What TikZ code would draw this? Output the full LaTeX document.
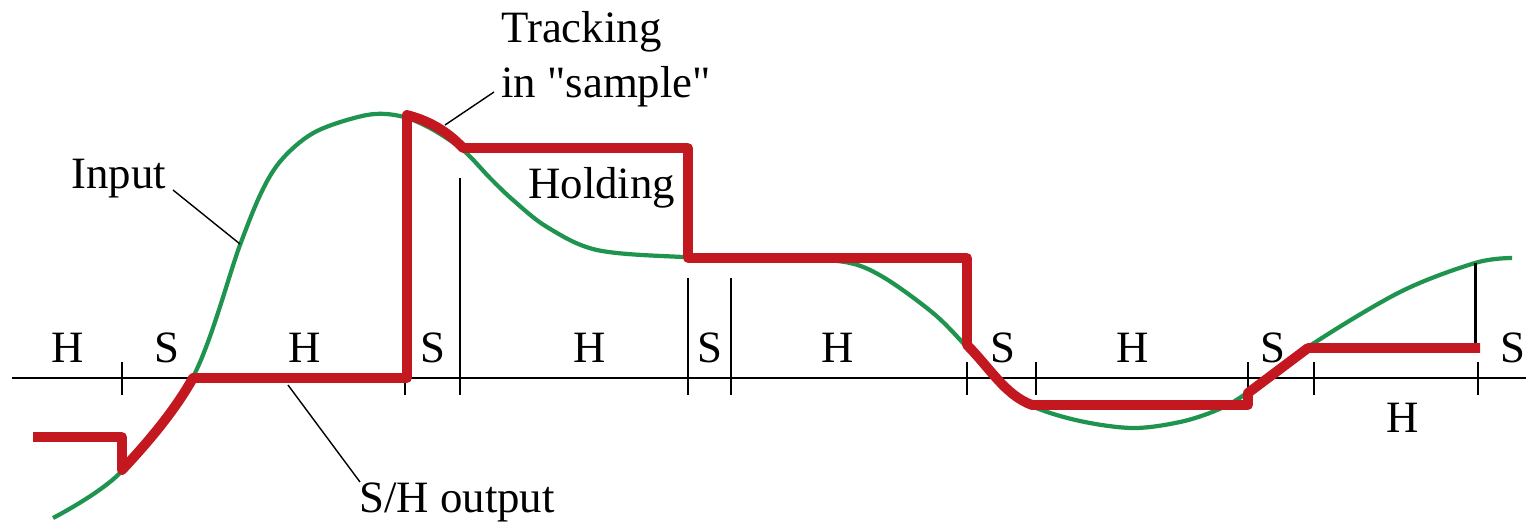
\documentclass[tikz,border=0pt]{standalone}
\usepackage{fontspec}
\newfontfamily\plainserif{Liberation Serif}
\definecolor{ingreen}{RGB}{30,148,78}
\definecolor{shred}{RGB}{196,24,32}
\begin{document}
\begin{tikzpicture}[x=0.02cm,y=-0.02cm,
  lbl/.style={font=\plainserif\fontsize{25.5}{28}\selectfont, inner sep=0pt},
  axisline/.style={black, line width=1.1pt},
  tickline/.style={black, line width=0.9pt},
  leader/.style={black, line width=0.8pt},
  inputcurve/.style={ingreen, line width=2.4pt},
  shout/.style={shred, line width=5.6pt, line join=round}]
\useasboundingbox (0,0) rectangle (1526,522);
% axis
\coordinate (axL) at (12,378);
\coordinate (axR) at (1526,378);
\draw[axisline] (axL) -- (axR);
% short ticks
\foreach \x in {122,967,1036,1248,1314,1478}{
  \draw[tickline] (\x,362) -- (\x,395);
}
\draw[tickline] (405,378) -- (405,395);
% long ticks
\draw[tickline] (460,178) -- (460,395);
\draw[tickline] (688,278) -- (688,395);
\draw[tickline] (731,278) -- (731,395);
% input curve
\draw[inputcurve] plot[smooth, tension=0.55] coordinates {
(53,518) (120,473) (193,377) (240,245) (264,187) (285,156) (317,131) (367,115)
(400,116) (430,128) (463,150) (490,178) (513,200) (547,227) (597,250) (683,257)
(780,259) (845,262) (883,277) (933,313) (965,345) (1000,383) (1032,406) (1080,421)
(1133,428) (1180,422) (1217,410) (1247,393) (1308,347) (1400,292) (1475,263) (1512,258)};
% black vertical at end
\draw[black, line width=1.7pt] (1475,263) -- (1475,346);
% S/H output
\draw[shout] (33,437) -- (122,437) -- (122,470)
  .. controls (150,440) and (175,410) .. (193,378)
  -- (407,378) -- (407,115)
  .. controls (430,121) and (448,132) .. (463,148)
  -- (688,148) -- (688,258) -- (967,258) -- (967,345)
  .. controls (990,368) and (1005,395) .. (1032,405)
  -- (1248,405) -- (1248,393) -- (1308,348) -- (1480,348);
% H / S labels
\foreach \x/\t [count=\i] in {68/H,167/S,305/H,433/S,590/H,710/S,838/H,1003/S,1133/H,1273/S,1513/S}{
  \node[lbl, anchor=base] (l\i) at (\x,362) {\t};
}
\node[lbl, anchor=base] (hlast) at (1403,432) {H};
% annotations
\node[lbl, anchor=base west] (track) at (501,42) {Tracking};
\node[lbl, anchor=base west] (insample) at (501,97) {in "sample"};
\node[lbl, anchor=base west] (holding) at (528,198) {Holding};
\node[lbl, anchor=base west] (input) at (71,188) {Input};
\node[lbl, anchor=base west] (shlabel) at (359,512) {S/H output};
% leaders
\coordinate (inpA) at (173,190);
\coordinate (inpB) at (240,244);
\draw[leader] (inpA) -- (inpB);
\coordinate (trA) at (494,92);
\coordinate (trB) at (445,125);
\draw[leader] (trA) -- (trB);
\coordinate (shA) at (288,385);
\coordinate (shB) at (360,482);
\draw[leader] (shA) -- (shB);
\end{tikzpicture}
\end{document}
